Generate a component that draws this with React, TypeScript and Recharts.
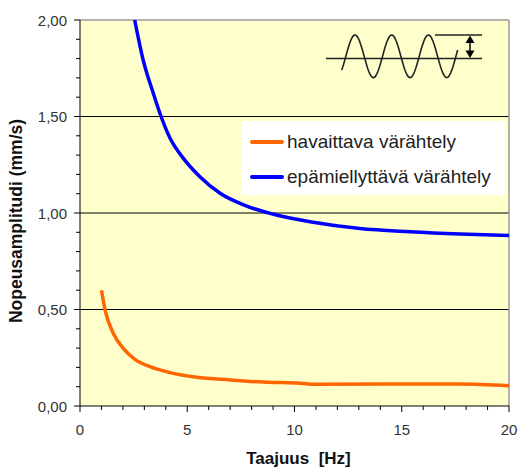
import React from "react";
import { LineChart, Line, XAxis, YAxis, CartesianGrid, ReferenceLine, Legend, Customized } from "recharts";

const blueFreq = [2.55, 2.95, 3.42, 3.78, 4.2, 4.82, 5.59, 6.53, 7.77, 9.2, 10.72, 13.05, 15.38, 17.7, 20];
const blueValues = [2.0, 1.79, 1.62, 1.5, 1.387, 1.283, 1.188, 1.102, 1.036, 0.988, 0.955, 0.92, 0.903, 0.891, 0.883];
const orangeFreq = [1.0, 1.17, 1.55, 2.02, 2.56, 3.26, 4.2, 5.44, 6.99, 8.55, 10.26, 11.0, 17.7, 20];
const orangeValues = [0.6, 0.497, 0.377, 0.299, 0.242, 0.204, 0.173, 0.149, 0.135, 0.124, 0.118, 0.113, 0.114, 0.105];

const seriesNames = ["havaittava värähtely", "epämiellyttävä värähtely"];
const xMinorTicks = [0, 1, 2, 3, 4, 5, 6, 7, 8, 9, 10, 11, 12, 13, 14, 15, 16, 17, 18, 19, 20];
const xMajorTicks = [0, 5, 10, 15, 20];
const yMinorTicks = [0, 0.1, 0.2, 0.3, 0.4, 0.5, 0.6, 0.7, 0.8, 0.9, 1.0, 1.1, 1.2, 1.3, 1.4, 1.5, 1.6, 1.7, 1.8, 1.9, 2.0];
const yMajorTicks = [0, 0.5, 1.0, 1.5, 2.0];
const gridValues = [0.5, 1.0, 1.5];

const blueData = blueFreq.map((f, i) => ({ f, v: blueValues[i] }));
const orangeData = orangeFreq.map((f, i) => ({ f, v: orangeValues[i] }));

const FONT = '"Liberation Sans", Arial, Helvetica, sans-serif';

const isMajor = (v: number, list: number[]) => list.some((m) => Math.abs(m - v) < 1e-6);

const XTick = (props: any) => {
  const { x, y, payload } = props;
  const major = isMajor(payload.value, xMajorTicks);
  return (
    <g>
      <line x1={x} x2={x} y1={y} y2={y + (major ? 6 : 4)} stroke="#000" strokeWidth={1} />
      {major && (
        <text x={x} y={y + 29} textAnchor="middle" fontSize={15} fontFamily={FONT} fill="#333">
          {payload.value}
        </text>
      )}
    </g>
  );
};

const YTick = (props: any) => {
  const { x, y, payload } = props;
  const major = isMajor(payload.value, yMajorTicks);
  return (
    <g>
      <line x1={x} x2={x - (major ? 6 : 4)} y1={y} y2={y} stroke="#000" strokeWidth={1} />
      {major && (
        <text x={x - 13} y={y + 5.5} textAnchor="end" fontSize={15} fontFamily={FONT} fill="#333">
          {payload.value.toFixed(2).replace(".", ",")}
        </text>
      )}
    </g>
  );
};

const LegendBox = (props: any) => {
  const payload = [...(props.payload || [])].sort(
    (a: any, b: any) => seriesNames.indexOf(a.value) - seriesNames.indexOf(b.value)
  );
  return (
    <div style={{ background: "#fff", width: 263, height: 74, boxSizing: "border-box", paddingTop: 3 }}>
      {payload.map((p: any, i: number) => (
        <div key={i} style={{ display: "flex", alignItems: "center", height: 35, fontFamily: FONT, fontSize: 19, color: "#222" }}>
          <svg width={45} height={10} style={{ flex: "none" }}>
            <line x1={10} x2={40} y1={5} y2={5} stroke={p.color} strokeWidth={4} strokeLinecap="round" />
          </svg>
          <span style={{ whiteSpace: "nowrap" }}>{p.value}</span>
        </div>
      ))}
    </div>
  );
};

const SineIcon = () => {
  const pts: string[] = [];
  const x0 = 341.7;
  const x1 = 458.3;
  const period = 36.7;
  const peakX = 355;
  const cy = 56.3;
  const amp = 21.3;
  for (let x = x0; x <= x1 + 0.01; x += 1) {
    const y = cy - amp * Math.cos(((x - peakX) / period) * 2 * Math.PI);
    pts.push(`${x.toFixed(1)},${y.toFixed(1)}`);
  }
  return (
    <g>
      <polyline points={pts.join(" ")} fill="none" stroke="#222" strokeWidth={1.6} />
      <line x1={326} x2={482} y1={58.5} y2={58.5} stroke="#222" strokeWidth={1.3} />
      <line x1={435} x2={482} y1={35} y2={35} stroke="#222" strokeWidth={1.3} />
      <line x1={470} x2={470} y1={40} y2={53} stroke="#000" strokeWidth={1.5} />
      <polygon points="470,35.5 465.5,43 474.5,43" fill="#000" />
      <polygon points="470,58 465.5,50.5 474.5,50.5" fill="#000" />
    </g>
  );
};

export default function App() {
  return (
    <div style={{ position: "absolute", top: 0, left: 0, width: 518, height: 468, background: "#fff" }}>
      <LineChart width={518} height={468} margin={{ top: 20, right: 9, bottom: 0, left: 0 }}>
        <CartesianGrid fill="#FFFFCC" horizontal={false} vertical={false} />
        <XAxis
          type="number"
          dataKey="f"
          domain={[0, 20]}
          ticks={xMinorTicks}
          interval={0}
          tickLine={false}
          tickSize={0}
          tickMargin={0}
          tick={<XTick />}
          height={62}
          axisLine={{ stroke: "#000", strokeWidth: 1 }}
          label={{ value: "Taajuus\u00A0\u00A0[Hz]", position: "insideBottom", offset: 4, dx: 4, style: { fontFamily: FONT, fontSize: 17, fontWeight: "bold", fill: "#111" } }}
          allowDuplicatedCategory={false}
        />
        <YAxis
          type="number"
          domain={[0, 2]}
          ticks={yMinorTicks}
          interval={0}
          allowDataOverflow
          tickLine={false}
          tickSize={0}
          tickMargin={0}
          tick={<YTick />}
          width={80}
          axisLine={{ stroke: "#000", strokeWidth: 1 }}
          label={{ value: "Nopeusamplitudi (mm/s)", angle: -90, position: "insideLeft", offset: 16, dy: 8, style: { textAnchor: "middle", fontFamily: FONT, fontSize: 17.5, fontWeight: "bold", fill: "#111" } }}
        />
        {gridValues.map((g) => (
          <ReferenceLine key={g} y={g} stroke="#000" strokeWidth={1} />
        ))}
        <ReferenceLine y={2} stroke="#999" strokeWidth={1.5} />
        <ReferenceLine x={20} stroke="#999" strokeWidth={1.5} />
        <Line data={orangeData} dataKey="v" name={seriesNames[0]} type="monotone" stroke="#FF6600" strokeWidth={3.5} dot={false} activeDot={false} isAnimationActive={false} />
        <Line data={blueData} dataKey="v" name={seriesNames[1]} type="monotone" stroke="#0000FF" strokeWidth={3.5} dot={false} activeDot={false} isAnimationActive={false} />
        <Legend
          layout="vertical"
          align="center"
          verticalAlign="middle"
          content={<LegendBox />}
          wrapperStyle={{ position: "absolute", left: 242, top: 121, width: 263, height: 74 }}
        />
        <Customized component={<SineIcon />} />
      </LineChart>
    </div>
  );
}
